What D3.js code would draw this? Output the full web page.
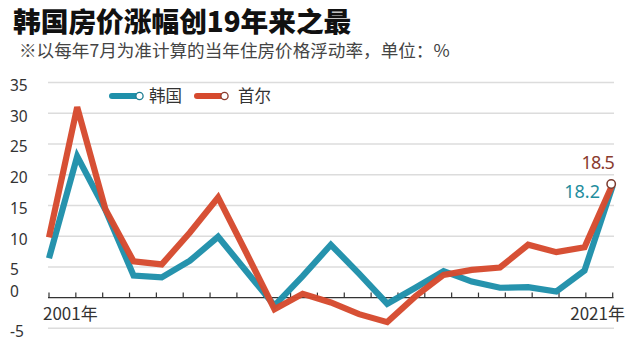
<!DOCTYPE html>
<html><head><meta charset="utf-8">
<script src="https://cdn.jsdelivr.net/npm/d3@7"></script>
<style>html,body{margin:0;padding:0;background:#fff;}svg{display:block;}</style>
</head><body>
<script>
const years = d3.range(2001, 2022);
const korea = [6.4, 23.0, 14.3, 3.6, 3.3, 6.0, 9.9, 4.3, -1.3, 3.5, 8.6, 3.9, -1.0, 1.6, 4.3, 2.6, 1.6, 1.7, 1.0, 4.4, 18.2];
const seoul = [9.8, 31.0, 14.4, 5.9, 5.4, 10.6, 16.3, 7.3, -1.9, 0.6, -0.8, -2.7, -4.0, 0.2, 3.7, 4.5, 4.9, 8.6, 7.4, 8.2, 18.5];
const yTicks = [-5, 0, 5, 10, 15, 20, 25, 30, 35];
const xLabels = ["2001年", "2021年"];
const seriesNames = ["韩国", "首尔"];
const title = "韩国房价涨幅创19年来之最";
const subtitle = "※以每年7月为准计算的当年住房价格浮动率，单位：%";

const W = 640, H = 357;
const teal = "#1f90aa", red = "#d64a2e";
const cjk = "'Noto Sans CJK SC', 'Noto Sans', sans-serif";

const svg = d3.select("body").append("svg").attr("width", W).attr("height", H);

const x = d3.scaleLinear().domain([2001, 2021]).range([49, 612.7]);
const y = d3.scaleLinear().domain([-5, 35]).range([328.3, 82.6]);
const tickScale = d3.scaleLinear().domain([0, 21]).range([49, 612.7]);

// title
svg.append("text").attr("x", 13).attr("y", 31.5).text(title)
  .style("font-family", cjk).style("font-weight", 900).style("font-size", "27.7px").attr("fill", "#111");
svg.append("text").attr("x", 19).attr("y", 56.5).text(subtitle)
  .style("font-family", cjk).style("font-size", "17.6px").attr("fill", "#444");

// gridlines
svg.append("g").selectAll("line").data(yTicks.filter(d => d !== 0)).join("line")
  .attr("x1", 48).attr("x2", 614).attr("y1", d => y(d)).attr("y2", d => y(d))
  .attr("stroke", "#dcdcdc").attr("stroke-width", 1.5);

// y labels
svg.append("g").selectAll("text").data(yTicks).join("text")
  .attr("x", 10).attr("y", d => d === 0 ? y(d) - 6 : y(d) + 3)
  .attr("dy", "0.35em").text(d => d)
  .style("font-family", "'Noto Sans', sans-serif").style("font-size", "15.5px").attr("fill", "#333");

// x axis line + ticks
svg.append("line").attr("x1", 48).attr("x2", 613.5).attr("y1", y(0)).attr("y2", y(0))
  .attr("stroke", "#333").attr("stroke-width", 1.2);
svg.append("g").selectAll("line").data(d3.range(22)).join("line")
  .attr("x1", d => tickScale(d)).attr("x2", d => tickScale(d))
  .attr("y1", y(0)).attr("y2", y(0) - 5)
  .attr("stroke", "#333").attr("stroke-width", 1.2);

svg.append("text").attr("x", 43).attr("y", 320).text(xLabels[0])
  .style("font-family", cjk).style("font-size", "17px").attr("fill", "#333");
svg.append("text").attr("x", 625).attr("y", 320).attr("text-anchor", "end").text(xLabels[1])
  .style("font-family", cjk).style("font-size", "17px").attr("fill", "#333");

// lines
const line = d3.line().x((d, i) => x(years[i])).y(d => y(d));
[[korea, teal], [seoul, red]].forEach(([data, c]) => {
  svg.append("path").datum(data).attr("d", line)
    .attr("fill", "none").attr("stroke", c).attr("stroke-width", 6.2)
    .attr("stroke-linejoin", "miter").attr("stroke-linecap", "butt").attr("opacity", 0.97);
});

// end marker
svg.append("circle").attr("cx", x(2021) - 1.5).attr("cy", y(seoul[20]))
  .attr("r", 4.2).attr("fill", "#fff").attr("stroke", "#7a3a2e").attr("stroke-width", 1.5);

// end labels
svg.append("text").attr("x", 614).attr("y", y(seoul[20]) - 15).attr("text-anchor", "end")
  .text(seoul[20]).style("font-family", "'Noto Sans', sans-serif").style("font-size", "18px")
  .style("letter-spacing", "-0.8px").attr("fill", "#8a3b2e");
svg.append("text").attr("x", 600).attr("y", y(korea[20]) + 12).attr("text-anchor", "end")
  .text(korea[20]).style("font-family", "'Noto Sans', sans-serif").style("font-size", "18px").attr("fill", "#1f8e9e");

// legend
const leg = [[seriesNames[0], teal, "#1d7d92", 112, 149], [seriesNames[1], red, "#8a3b2e", 197, 238]];
leg.forEach(([name, c, sc, lx, tx]) => {
  svg.append("line").attr("x1", lx).attr("x2", lx + 25).attr("y1", 96).attr("y2", 96)
    .attr("stroke", c).attr("stroke-width", 6).attr("stroke-linecap", "round");
  svg.append("circle").attr("cx", lx + 27.5).attr("cy", 96).attr("r", 3.6)
    .attr("fill", "#fff").attr("stroke", sc).attr("stroke-width", 1.3);
  svg.append("text").attr("x", tx).attr("y", 96).attr("dy", "0.35em").text(name)
    .style("font-family", cjk).style("font-size", "16.5px").attr("fill", "#333");
});
</script>
</body></html>
